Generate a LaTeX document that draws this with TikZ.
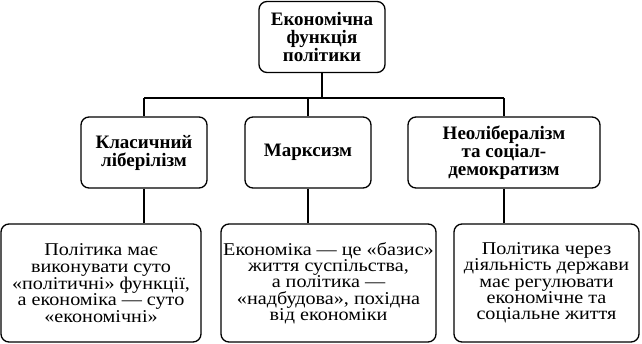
\documentclass[tikz,border=0pt]{standalone}
\usepackage{fontspec}
\setmainfont{Liberation Serif}
\newfontfamily\descfont[FakeStretch=1.12]{Liberation Serif}
\begin{document}
\begin{tikzpicture}[x=1pt,y=1pt,
  box/.style={draw, line width=1.3pt, rounded corners=8pt, align=center, inner sep=1pt},
  head/.style={box, font=\fontsize{19}{18}\selectfont\bfseries, minimum height=71pt},
  desc/.style={box, font=\descfont\fontsize{18}{16.3}\selectfont, minimum height=118pt},
  link/.style={line width=1.3pt}]
\useasboundingbox (0,0) rectangle (642,-344);
\node[head, minimum width=126pt] (top) at (322,-37) {Економічна\\функція\\політики};
\node[head, minimum width=126pt] (ml) at (144,-152.5) {Класичний\\ліберілізм};
\node[head, minimum width=126pt] (mm) at (308,-152.5) {Марксизм};
\node[head, minimum width=192pt] (mr) at (504,-152.5) {Неолібералізм\\та соціал-\\демократизм};
\node[desc, minimum width=200pt] (bl) at (101,-283) {Політика має\\виконувати суто\\«політичні» функції,\\а економіка — суто\\«економічні»};
\node[desc, minimum width=215pt] (bm) at (328.5,-283) {Економіка — це «базис»\\життя суспільства,\\а політика —\\«надбудова», похідна\\від економіки};
\node[desc, minimum width=185pt] (br) at (546.5,-283) {Політика через\\діяльність держави\\має регулювати\\економічне та\\соціальне життя};
\coordinate (busL) at (144,-98);
\coordinate (busR) at (504,-98);
\draw[link] (busL) -- (busR);
\draw[link] (top.south) -- (top.south |- busL);
\draw[link] (busL) -- (ml.north);
\draw[link] (mm.north |- busL) -- (mm.north);
\draw[link] (busR) -- (mr.north);
\draw[link] (ml.south) -- (ml.south |- bl.north);
\draw[link] (mm.south) -- (mm.south |- bm.north);
\draw[link] (mr.south) -- (mr.south |- br.north);
\end{tikzpicture}
\end{document}
